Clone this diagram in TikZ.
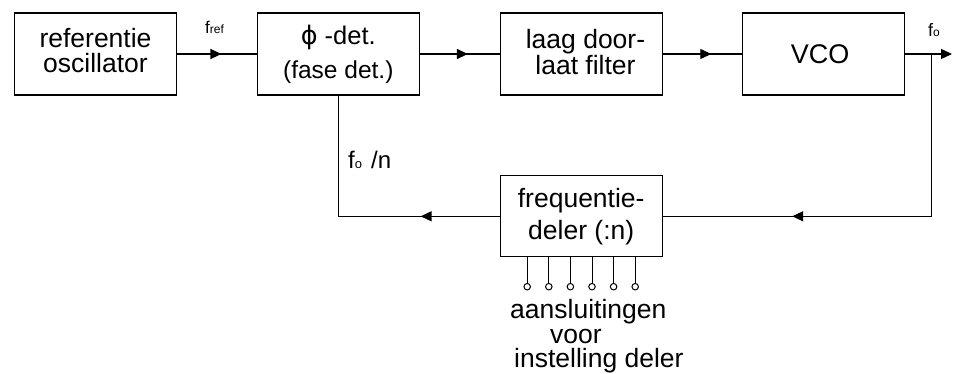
\documentclass[tikz,border=0pt]{standalone}
\usepackage{fontspec}
\setmainfont{Liberation Sans}
\newfontfamily\dejavu{DejaVu Sans}
\usetikzlibrary{arrows.meta,decorations.markings}
\begin{document}
\begin{tikzpicture}[x=1pt,y=-1pt,
 blk/.style={draw,line width=1.3pt,minimum width=162pt,minimum height=82pt,inner sep=0pt,align=center,font=\fontsize{26.5}{24.5}\selectfont},
 ln/.style={line width=1.3pt},
 midarrow/.style={ln,postaction=decorate,decoration={markings,mark=at position #1 with {\arrow{Triangle[length=11pt,width=10pt]}}}},
 pinc/.style={draw,circle,line width=1pt,fill=white,minimum size=6.5pt,inner sep=0pt},
 lbl/.style={inner sep=0pt,anchor=base west}]
\useasboundingbox (0,0) rectangle (960,374);
\node[blk,text depth=7pt] (osc) at (95.5,54) {referentie\\oscillator};
\node[blk,font=\fontsize{25.5}{34}\selectfont] (det) at (338.3,54) {{\dejavu ϕ} -det.\\{\fontsize{24.5}{34}\selectfont(fase det.)}};
\node[blk,font=\fontsize{26.5}{24.7}\selectfont,text depth=4pt] (lpf) at (581.5,54) {\hspace*{8pt}laag door-\\\hspace*{8pt}laat filter};
\node[blk,font=\fontsize{27}{27}\selectfont] (vco) at (823.7,54) {\hspace*{-7pt}VCO};
\node[blk,minimum height=81pt,font=\fontsize{26.5}{32}\selectfont] (div) at (581.2,216.3) {frequentie-\\deler (:n)};
\draw[midarrow=0.557] (osc.east) -- (det.west);
\draw[midarrow=0.6] (det.east) -- (lpf.west);
\draw[midarrow=0.61] (lpf.east) -- (vco.west);
\coordinate (out) at (952,54);
\coordinate (br) at (931.7,54);
\draw[ln,-{Triangle[length=11pt,width=10pt]}] (vco.east) -- (out);
\draw[midarrow=0.70] (br) -- (br |- div.east) -- (div.east);
\draw[midarrow=0.28] (div.west) -- (det.south |- div.west) -- (det.south);
\foreach \dx [count=\k] in {-54,-32.4,-10.8,10.8,32.4,54} {
  \node[pinc] (p\k) at (581.2+\dx,286.7) {};
  \draw[line width=1pt] (p\k.north) -- (p\k.north |- div.south);
}
\node[font=\fontsize{26.5}{24.4}\selectfont,align=left,anchor=north west,inner sep=0pt] (txt) at (510,299.5) {aansluitingen\\\hspace*{40pt}voor\\\hspace*{4pt}instelling deler};
\node[lbl] (fref) at (205,33.3) {\fontsize{17}{17}\selectfont f\fontsize{12}{12}\selectfont ref};
\node[lbl] (fo) at (928,36.7) {\fontsize{18}{18}\selectfont f\fontsize{12}{12}\selectfont o};
\node[lbl] (fon) at (348,168) {\fontsize{24}{24}\selectfont f\fontsize{13}{13}\selectfont o\hspace{9pt}\fontsize{24}{24}\selectfont/n};
\end{tikzpicture}
\end{document}
